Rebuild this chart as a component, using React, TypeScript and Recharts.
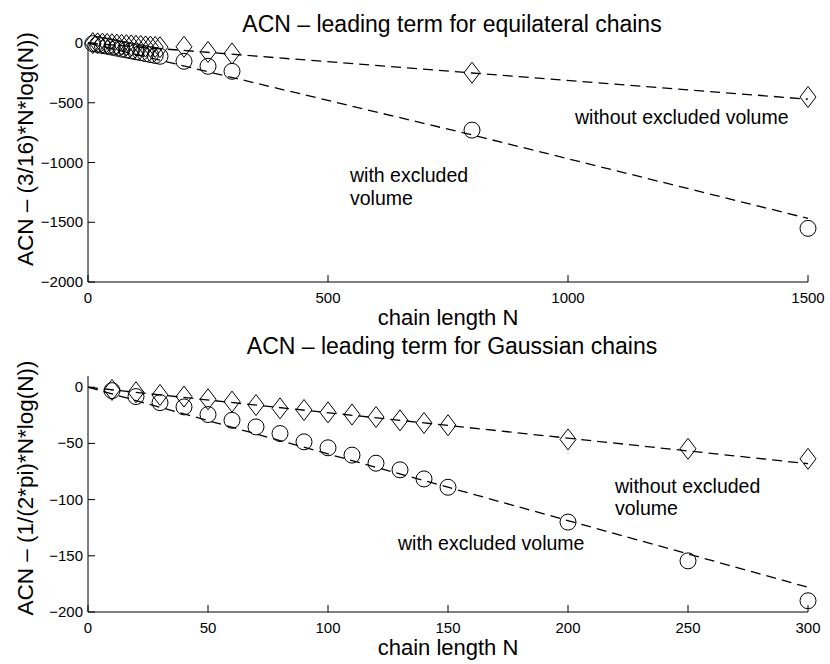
import React from "react";
import { ComposedChart, Line, Scatter, XAxis, YAxis } from "recharts";

// ---------- data: equilateral chains (top panel) ----------
const eqN = [10, 20, 30, 40, 50, 60, 70, 80, 90, 100, 110, 120, 130, 140, 150, 200, 250, 300, 800, 1500];
const eqWithout = [-1, -3, -5, -8, -10, -13, -15, -18, -20, -23, -25, -28, -30, -33, -35, -32, -75, -88, -249, -452];
const eqWith = [-5, -12, -20, -27, -35, -43, -51, -58, -66, -74, -81, -89, -97, -104, -111, -153, -195, -237, -729, -1551];
const eqFitWithoutN = [0, 800, 1500];
const eqFitWithout = [0, -251, -470];
const eqFitWithN = [0, 800, 1500];
const eqFitWith = [0, -769, -1468];
const eqXTicks = [0, 500, 1000, 1500];
const eqYTicks = [-2000, -1500, -1000, -500, 0];

// ---------- data: Gaussian chains (bottom panel) ----------
const gN = [10, 20, 30, 40, 50, 60, 70, 80, 90, 100, 110, 120, 130, 140, 150, 200, 250, 300];
const gWithout = [-2.4, -4.5, -6.9, -8.3, -10.7, -12.8, -15.8, -18.8, -20.3, -22.4, -24.3, -26.5, -29.5, -31.8, -33.8, -46.4, -54.8, -63.7];
const gWith = [-3, -8.3, -13.7, -17.5, -24.3, -29.4, -35.3, -41.2, -48.6, -53.9, -60.4, -67.6, -73.5, -81.6, -89, -120, -154.5, -190];
const gFitWithoutN = [0, 300];
const gFitWithout = [0, -68];
const gFitWithN = [0, 300];
const gFitWith = [0, -178];
const gXTicks = [0, 50, 100, 150, 200, 250, 300];
const gYTicks = [-200, -150, -100, -50, 0];

const zip = (xs: number[], ys: number[]) => xs.map((N, i) => ({ N, v: ys[i] }));

const FONT = "'Liberation Sans', Arial, Helvetica, sans-serif";
const fmt = (v: number) => (v < 0 ? "\u2212" + Math.abs(v) : String(v));

const Diamond = (p: any) => {
  const { cx, cy } = p;
  if (cx == null || cy == null) return null;
  const w = 8, h = 10.5;
  return (
    <polygon
      points={`${cx},${cy - h} ${cx + w},${cy} ${cx},${cy + h} ${cx - w},${cy}`}
      fill="none"
      stroke="#000"
      strokeWidth={1}
    />
  );
};
const Circle = (p: any) => {
  const { cx, cy } = p;
  if (cx == null || cy == null) return null;
  return <circle cx={cx} cy={cy} r={8} fill="none" stroke="#000" strokeWidth={1} />;
};

const BottomTick = (p: any) => (
  <g>
    <line x1={p.x} x2={p.x} y1={p.y} y2={p.y - 7} stroke="#000" />
    <text x={p.x} y={p.y + 21} textAnchor="middle" fontSize={15} fontFamily={FONT} fill="#000">
      {fmt(p.payload.value)}
    </text>
  </g>
);
const TopTick = (p: any) => <line x1={p.x} x2={p.x} y1={p.y} y2={p.y + 7} stroke="#000" />;
const LeftTick = (p: any) => (
  <g>
    <line x1={p.x} x2={p.x + 7} y1={p.y} y2={p.y} stroke="#000" />
    <text x={p.x - 5} y={p.y + 5} textAnchor="end" fontSize={15} fontFamily={FONT} fill="#000">
      {fmt(p.payload.value)}
    </text>
  </g>
);
const RightTick = (p: any) => <line x1={p.x} x2={p.x - 7} y1={p.y} y2={p.y} stroke="#000" />;

type PanelProps = {
  top: number;
  height: number;
  marginTop: number;
  xAxisHeight: number;
  xDomain: [number, number];
  yDomain: [number, number];
  xTicks: number[];
  yTicks: number[];
  without: { N: number; v: number }[];
  withEV: { N: number; v: number }[];
  fitWithout: { N: number; v: number }[];
  fitWith: { N: number; v: number }[];
};

const Panel = (pp: PanelProps) => (
  <div style={{ position: "absolute", left: 0, top: pp.top }}>
    <ComposedChart
      width={830}
      height={pp.height}
      margin={{ top: pp.marginTop, right: 22, bottom: 0, left: 0 }}
    >
      <XAxis
        xAxisId="b"
        dataKey="N"
        type="number"
        domain={pp.xDomain}
        ticks={pp.xTicks}
        interval={0}
        height={pp.xAxisHeight}
        tickSize={0}
        tickMargin={0}
        tickLine={false}
        axisLine={{ stroke: "#000" }}
        tick={(p: any) => <BottomTick {...p} />}
      />
      <XAxis
        xAxisId="t"
        orientation="top"
        dataKey="N"
        type="number"
        domain={pp.xDomain}
        allowDataOverflow
        ticks={pp.xTicks}
        interval={0}
        height={0}
        tickSize={0}
        tickMargin={0}
        tickLine={false}
        axisLine={{ stroke: "#000" }}
        tick={(p: any) => <TopTick {...p} />}
      />
      <YAxis
        yAxisId="l"
        dataKey="v"
        type="number"
        domain={pp.yDomain}
        ticks={pp.yTicks}
        interval={0}
        width={88}
        tickSize={0}
        tickMargin={0}
        tickLine={false}
        axisLine={{ stroke: "#000" }}
        tick={(p: any) => <LeftTick {...p} />}
      />
      <YAxis
        yAxisId="r"
        orientation="right"
        dataKey="v"
        type="number"
        domain={pp.yDomain}
        allowDataOverflow
        ticks={pp.yTicks}
        interval={0}
        width={0}
        tickSize={0}
        tickMargin={0}
        tickLine={false}
        axisLine={{ stroke: "#000" }}
        tick={(p: any) => <RightTick {...p} />}
      />
      <Line
        xAxisId="b"
        yAxisId="l"
        data={pp.fitWithout}
        dataKey="v"
        type="linear"
        dot={false}
        activeDot={false}
        stroke="#000"
        strokeWidth={1.3}
        strokeDasharray="10 6"
        isAnimationActive={false}
      />
      <Line
        xAxisId="b"
        yAxisId="l"
        data={pp.fitWith}
        dataKey="v"
        type="linear"
        dot={false}
        activeDot={false}
        stroke="#000"
        strokeWidth={1.3}
        strokeDasharray="10 6"
        isAnimationActive={false}
      />
      <Scatter
        xAxisId="b"
        yAxisId="l"
        data={pp.without}
        dataKey="v"
        shape={(p: any) => <Diamond {...p} />}
        isAnimationActive={false}
      />
      <Scatter
        xAxisId="b"
        yAxisId="l"
        data={pp.withEV}
        dataKey="v"
        shape={(p: any) => <Circle {...p} />}
        isAnimationActive={false}
      />
    </ComposedChart>
  </div>
);

const T = (props: any) => (
  <text fontFamily={FONT} fill="#000" {...props} />
);

export default function App() {
  return (
    <div style={{ position: "absolute", left: 0, top: 0, width: 830, height: 664, background: "#fff" }}>
      <Panel
        top={0}
        height={330}
        marginTop={43}
        xAxisHeight={48}
        xDomain={[0, 1500]}
        yDomain={[-2000, 0]}
        xTicks={eqXTicks}
        yTicks={eqYTicks}
        without={zip(eqN, eqWithout)}
        withEV={zip(eqN, eqWith)}
        fitWithout={zip(eqFitWithoutN, eqFitWithout)}
        fitWith={zip(eqFitWithN, eqFitWith)}
      />
      <Panel
        top={330}
        height={334}
        marginTop={46}
        xAxisHeight={52}
        xDomain={[0, 300]}
        yDomain={[-200, 10]}
        xTicks={gXTicks}
        yTicks={gYTicks}
        without={zip(gN, gWithout)}
        withEV={zip(gN, gWith)}
        fitWithout={zip(gFitWithoutN, gFitWithout)}
        fitWith={zip(gFitWithN, gFitWith)}
      />
      <svg
        width={830}
        height={664}
        style={{ position: "absolute", left: 0, top: 0, pointerEvents: "none" }}
      >
        <T x={452} y={31.5} fontSize={23} textAnchor="middle">ACN – leading term for equilateral chains</T>
        <T x={448} y={325} fontSize={22} textAnchor="middle">chain length N</T>
        <T x={33} y={149} fontSize={22.5} textAnchor="middle" transform="rotate(-90, 33, 149)">
          ACN – (3/16)*N*log(N))
        </T>
        <T x={575} y={123.5} fontSize={19.5}>without excluded volume</T>
        <T x={350} y={182} fontSize={19.5}>with excluded</T>
        <T x={350} y={205} fontSize={19.5}>volume</T>

        <T x={452} y={354} fontSize={23} textAnchor="middle">ACN – leading term for Gaussian chains</T>
        <T x={448} y={655} fontSize={22} textAnchor="middle">chain length N</T>
        <T x={33} y={488} fontSize={22.5} textAnchor="middle" transform="rotate(-90, 33, 488)">
          ACN – (1/(2*pi)*N*log(N))
        </T>
        <T x={615} y={493} fontSize={19.5}>without excluded</T>
        <T x={615} y={515} fontSize={19.5}>volume</T>
        <T x={398} y={549.5} fontSize={19.5}>with excluded volume</T>
      </svg>
    </div>
  );
}
